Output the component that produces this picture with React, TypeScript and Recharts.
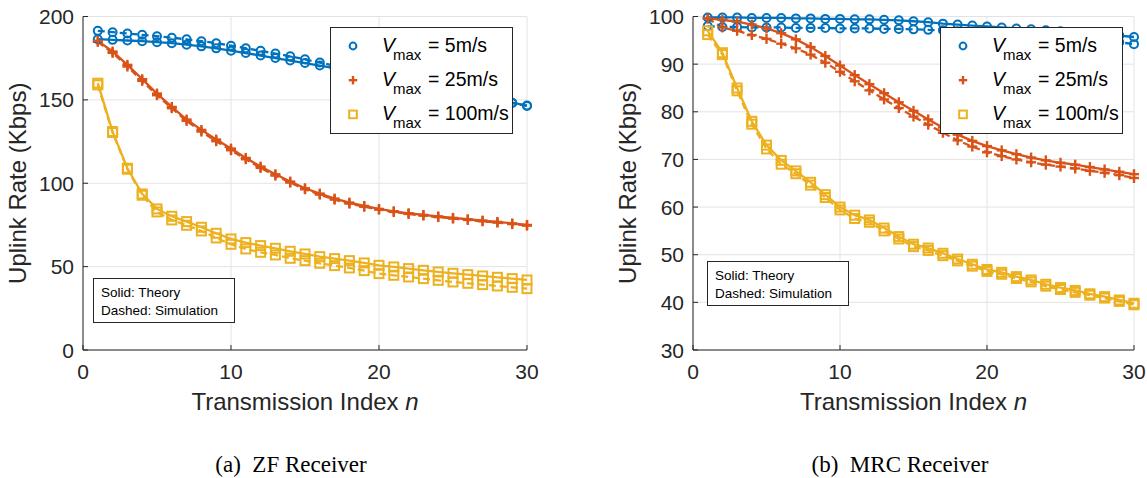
import React from "react";
import { LineChart, Line, XAxis, YAxis, CartesianGrid, Legend } from "recharts";

// transmission index n
const transmissionIndex = [
  1, 2, 3, 4, 5, 6, 7, 8, 9, 10, 11, 12, 13, 14, 15, 16, 17, 18, 19, 20, 21, 22, 23, 24, 25, 26, 27,
  28, 29, 30,
];

// (a) ZF receiver, uplink rate in Kbps
const zfTheory5 = [
  186.4, 186.0, 185.6, 185.2, 184.6, 184.0, 183.1, 182.1, 180.9, 179.5, 178.1, 176.6, 175.1, 173.6,
  172.1, 170.6, 169.0, 167.4, 165.7, 164.0, 162.3, 160.6, 158.9, 157.2, 155.4, 153.6, 151.8, 150.0,
  148.3, 146.6,
];
const zfSim5 = [
  191.4, 190.6, 189.8, 189.0, 188.2, 187.3, 186.3, 185.2, 184.0, 182.5, 181.0, 179.4, 177.8, 176.1,
  174.3, 172.4, 170.5, 168.6, 166.7, 164.8, 162.9, 161.0, 159.1, 157.2, 155.3, 153.4, 151.6, 149.8,
  148.1, 146.4,
];
const zfTheory25 = [
  185.4, 179.0, 171.0, 162.4, 153.8, 145.8, 138.2, 132.0, 126.2, 120.8, 115.2, 110.0, 105.4, 101.0,
  97.0, 93.8, 90.8, 88.4, 86.4, 84.6, 83.2, 82.0, 81.0, 80.1, 79.2, 78.4, 77.6, 76.8, 75.9, 75.0,
];
const zfSim25 = [
  184.8, 178.2, 170.0, 161.4, 152.8, 145.0, 137.4, 131.0, 125.2, 119.8, 114.4, 109.2, 104.6, 100.4,
  96.4, 93.2, 90.2, 87.8, 85.9, 84.2, 82.8, 81.6, 80.6, 79.7, 78.8, 78.0, 77.2, 76.4, 75.5, 74.6,
];
const zfTheory100 = [
  160.0, 131.0, 109.0, 93.6, 84.6, 80.2, 77.0, 73.6, 70.0, 66.6, 64.4, 62.6, 61.0, 59.2, 57.6, 56.0,
  54.8, 53.6, 52.2, 50.8, 49.8, 48.8, 47.8, 46.8, 46.0, 45.2, 44.4, 43.6, 42.8, 42.0,
];
const zfSim100 = [
  159.0, 130.4, 108.4, 92.8, 82.8, 78.0, 74.8, 71.4, 67.2, 63.4, 60.6, 58.6, 57.0, 55.0, 53.6, 52.0,
  50.6, 49.2, 47.6, 45.8, 44.8, 43.8, 42.8, 41.8, 40.8, 40.0, 39.2, 38.4, 37.6, 36.8,
];

// (b) MRC receiver, uplink rate in Kbps
const mrcTheory5 = [
  99.8, 99.8, 99.8, 99.7, 99.7, 99.7, 99.6, 99.6, 99.5, 99.5, 99.4, 99.4, 99.3, 99.2, 99.0, 98.8,
  98.5, 98.3, 98.1, 97.9, 97.7, 97.5, 97.3, 97.1, 96.9, 96.7, 96.5, 96.3, 96.0, 95.7,
];
const mrcSim5 = [
  98.0, 97.8, 97.8, 97.7, 97.7, 97.7, 97.6, 97.6, 97.6, 97.5, 97.5, 97.5, 97.4, 97.4, 97.3, 97.2,
  97.1, 96.9, 96.7, 96.5, 96.3, 96.1, 95.9, 95.7, 95.5, 95.3, 95.1, 94.9, 94.6, 94.2,
];
const mrcTheory25 = [
  99.6, 99.3, 98.9, 98.3, 97.5, 96.5, 95.2, 93.6, 91.7, 89.7, 87.7, 85.8, 83.9, 82.0, 80.2, 78.4,
  76.7, 75.2, 73.9, 72.8, 71.9, 71.1, 70.4, 69.8, 69.3, 68.9, 68.4, 67.9, 67.4, 66.9,
];
const mrcSim25 = [
  99.6, 97.7, 97.0, 96.1, 95.3, 94.3, 93.3, 92.0, 90.3, 88.4, 86.4, 84.5, 82.6, 80.8, 79.0, 77.3,
  75.6, 74.0, 72.7, 71.5, 70.7, 70.0, 69.4, 68.9, 68.5, 68.1, 67.6, 67.2, 66.7, 66.1,
];
const mrcTheory100 = [
  97.0, 92.4, 85.0, 78.0, 73.0, 69.8, 67.6, 65.2, 62.6, 60.0, 58.3, 57.3, 55.6, 53.8, 52.2, 51.4,
  50.3, 49.1, 48.0, 46.9, 46.3, 45.4, 44.7, 43.8, 43.1, 42.5, 41.8, 41.2, 40.5, 39.8,
];
const mrcSim100 = [
  96.2, 92.0, 84.4, 77.4, 72.2, 69.0, 67.0, 64.6, 62.0, 59.4, 57.6, 56.8, 55.0, 53.3, 51.7, 50.9,
  49.8, 48.7, 47.6, 46.5, 45.9, 45.0, 44.3, 43.4, 42.7, 42.1, 41.5, 40.9, 40.2, 39.5,
];

const xTicks = [0, 10, 20, 30];
const zfYTicks = [0, 50, 100, 150, 200];
const mrcYTicks = [30, 40, 50, 60, 70, 80, 90, 100];

const legendLabels = ["5m/s", "25m/s", "100m/s"];
const noteLines = ["Solid: Theory", "Dashed: Simulation"];
const xLabel = "Transmission Index ";
const yLabel = "Uplink Rate (Kbps)";

const BLUE = "#0072BD";
const RED = "#D95319";
const YELLOW = "#EDB120";
const AXIS = "#262626";
const GRID = "#e3e3e3";
const SANS = '"Liberation Sans", Arial, Helvetica, sans-serif';
const SERIF = '"Liberation Serif", "Times New Roman", serif';

type Kind = "circle" | "plus" | "square";

function Marker({
  kind,
  cx,
  cy,
  color,
  size = 1,
}: {
  kind: Kind;
  cx: number;
  cy: number;
  color: string;
  size?: number;
}) {
  if (kind === "circle") {
    return <circle cx={cx} cy={cy} r={4 * size} fill="none" stroke={color} strokeWidth={2} />;
  }
  if (kind === "plus") {
    const h = 5 * size;
    return (
      <g stroke={color} strokeWidth={2.4}>
        <line x1={cx - h} x2={cx + h} y1={cy} y2={cy} />
        <line x1={cx} x2={cx} y1={cy - h} y2={cy + h} />
      </g>
    );
  }
  const s = 4.5 * size;
  return (
    <rect x={cx - s} y={cy - s} width={2 * s} height={2 * s} fill="none" stroke={color} strokeWidth={2} />
  );
}

const makeDot = (kind: Kind, color: string) => (p: any) => {
  const key = `${kind}-${p.index}`;
  if (p.cx == null || p.cy == null) return <g key={key} />;
  return (
    <g key={key}>
      <Marker kind={kind} cx={p.cx} cy={p.cy} color={color} />
    </g>
  );
};

const BottomTick = (p: any) => (
  <g>
    <line x1={p.x} x2={p.x} y1={p.y} y2={p.y - 5} stroke={AXIS} />
    <text x={p.x} y={p.y + 29} textAnchor="middle" fontSize={21} fill={AXIS} fontFamily={SANS}>
      {p.payload.value}
    </text>
  </g>
);
const TopTick = (p: any) => <line x1={p.x} x2={p.x} y1={p.y} y2={p.y + 5} stroke={AXIS} />;
const LeftTick = (p: any) => (
  <g>
    <line x1={p.x} x2={p.x + 5} y1={p.y} y2={p.y} stroke={AXIS} />
    <text x={p.x - 9} y={p.y + 7.5} textAnchor="end" fontSize={21} fill={AXIS} fontFamily={SANS}>
      {p.payload.value}
    </text>
  </g>
);
const RightTick = (p: any) => <line x1={p.x} x2={p.x - 5} y1={p.y} y2={p.y} stroke={AXIS} />;

const XTitle = (p: any) => {
  const { x, y, width } = p.viewBox;
  return (
    <text x={x + width / 2} y={y + 60} textAnchor="middle" fontSize={24} fill={AXIS} fontFamily={SANS}>
      {xLabel}
      <tspan fontStyle="italic">n</tspan>
    </text>
  );
};

const YTitle = (p: any) => {
  const { y, height } = p.viewBox;
  const cx = 26;
  const cy = y + height / 2;
  return (
    <text
      x={cx}
      y={cy}
      transform={`rotate(-90 ${cx} ${cy})`}
      textAnchor="middle"
      fontSize={24}
      fill={AXIS}
      fontFamily={SANS}
    >
      {yLabel}
    </text>
  );
};

const seriesKinds: Kind[] = ["circle", "plus", "square"];
const seriesColors = [BLUE, RED, YELLOW];

function LegendBox() {
  return (
    <svg width={183} height={107} style={{ display: "block" }}>
      <rect x={0.5} y={0.5} width={182} height={106} fill="#fff" stroke={AXIS} />
      {legendLabels.map((lab, i) => {
        const base = 25 + i * 34.2;
        return (
          <g key={lab}>
            <Marker kind={seriesKinds[i]} cx={23} cy={base - 6} color={seriesColors[i]} size={0.85} />
            <text x={52} y={base} fontSize={19.5} fill="#000" fontFamily={SANS}>
              <tspan fontStyle="italic">V</tspan>
              <tspan x={63} dy={8} fontSize={15}>
                max
              </tspan>
              <tspan x={98} dy={-8}>
                = {lab}
              </tspan>
            </text>
          </g>
        );
      })}
    </svg>
  );
}

interface PanelProps {
  left: number;
  width: number;
  theory: number[][];
  sim: number[][];
  yTicks: number[];
  note: { left: number; top: number };
  caption: string;
  captionX: number;
}

function Panel({ left, width, theory, sim, yTicks, note, caption, captionX }: PanelProps) {
  const data = transmissionIndex.map((n, i) => ({
    n,
    th0: theory[0][i],
    th1: theory[1][i],
    th2: theory[2][i],
    sm0: sim[0][i],
    sm1: sim[1][i],
    sm2: sim[2][i],
  }));
  const yDomain = [yTicks[0], yTicks[yTicks.length - 1]];
  const chartRight = width - (left === 0 ? 527 : 1134 - left);

  return (
    <>
      <div style={{ position: "absolute", left, top: 0, width, height: 420 }}>
        <LineChart
          width={width}
          height={420}
          data={data}
          margin={{ top: 16.5, right: chartRight, bottom: 10, left: 0 }}
          style={{ fontFamily: SANS }}
        >
          <CartesianGrid xAxisId="bottom" yAxisId="left" stroke={GRID} />
          <XAxis
            xAxisId="bottom"
            dataKey="n"
            type="number"
            domain={[0, 30]}
            ticks={xTicks}
            interval={0}
            tickSize={0}
            tickMargin={0}
            tickLine={false}
            tick={BottomTick}
            axisLine={{ stroke: AXIS }}
            height={60}
            label={{ content: XTitle }}
          />
          <XAxis
            xAxisId="top"
            orientation="top"
            dataKey="n"
            type="number"
            domain={[0, 30]}
            ticks={xTicks}
            interval={0}
            tickSize={0}
            tickMargin={0}
            tickLine={false}
            tick={TopTick}
            axisLine={{ stroke: AXIS }}
            height={0}
          />
          <YAxis
            yAxisId="left"
            type="number"
            domain={yDomain}
            ticks={yTicks}
            interval={0}
            tickSize={0}
            tickMargin={0}
            tickLine={false}
            tick={LeftTick}
            axisLine={{ stroke: AXIS }}
            width={83}
            label={{ content: YTitle }}
          />
          <YAxis
            yAxisId="right"
            orientation="right"
            type="number"
            domain={yDomain}
            ticks={yTicks}
            interval={0}
            tickSize={0}
            tickMargin={0}
            tickLine={false}
            tick={RightTick}
            axisLine={{ stroke: AXIS }}
            width={0}
          />
          {[0, 1, 2].map((k) => (
            <Line
              key={`sm${k}`}
              xAxisId="bottom"
              yAxisId="left"
              type="linear"
              dataKey={`sm${k}`}
              stroke={seriesColors[k]}
              strokeWidth={2.3}
              strokeDasharray="7 4"
              dot={makeDot(seriesKinds[k], seriesColors[k])}
              activeDot={false}
              legendType="none"
              isAnimationActive={false}
            />
          ))}
          {[0, 1, 2].map((k) => (
            <Line
              key={`th${k}`}
              xAxisId="bottom"
              yAxisId="left"
              type="linear"
              dataKey={`th${k}`}
              stroke={seriesColors[k]}
              strokeWidth={2.3}
              dot={makeDot(seriesKinds[k], seriesColors[k])}
              activeDot={false}
              isAnimationActive={false}
            />
          ))}
          <Legend
            layout="horizontal"
            verticalAlign="middle"
            align="center"
            content={() => <LegendBox />}
            wrapperStyle={{ position: "absolute", left: 330, top: 27, width: 183, height: 107 }}
          />
        </LineChart>
        <div
          style={{
            position: "absolute",
            left: note.left,
            top: note.top,
            width: 142,
            height: 45,
            boxSizing: "border-box",
            border: `1px solid ${AXIS}`,
            background: "#fff",
            padding: "5px 0 0 7px",
            fontFamily: SANS,
            fontSize: 13.5,
            lineHeight: "18px",
            color: "#000",
          }}
        >
          {noteLines.map((t) => (
            <div key={t}>{t}</div>
          ))}
        </div>
      </div>
      <div
        style={{
          position: "absolute",
          left: captionX - 150,
          top: 452,
          width: 300,
          textAlign: "center",
          fontFamily: SERIF,
          fontSize: 23,
          lineHeight: "26px",
          color: "#000",
          whiteSpace: "pre",
        }}
      >
        {caption}
      </div>
    </>
  );
}

export default function App() {
  return (
    <div
      style={{
        position: "absolute",
        left: 0,
        top: 0,
        width: 1147,
        height: 478,
        background: "#fff",
        overflow: "hidden",
      }}
    >
      <Panel
        left={0}
        width={609}
        theory={[zfTheory5, zfTheory25, zfTheory100]}
        sim={[zfSim5, zfSim25, zfSim100]}
        yTicks={zfYTicks}
        note={{ left: 93, top: 278 }}
        caption="(a)  ZF Receiver"
        captionX={291}
      />
      <Panel
        left={610}
        width={537}
        theory={[mrcTheory5, mrcTheory25, mrcTheory100]}
        sim={[mrcSim5, mrcSim25, mrcSim100]}
        yTicks={mrcYTicks}
        note={{ left: 97, top: 261 }}
        caption="(b)  MRC Receiver"
        captionX={900}
      />
    </div>
  );
}
